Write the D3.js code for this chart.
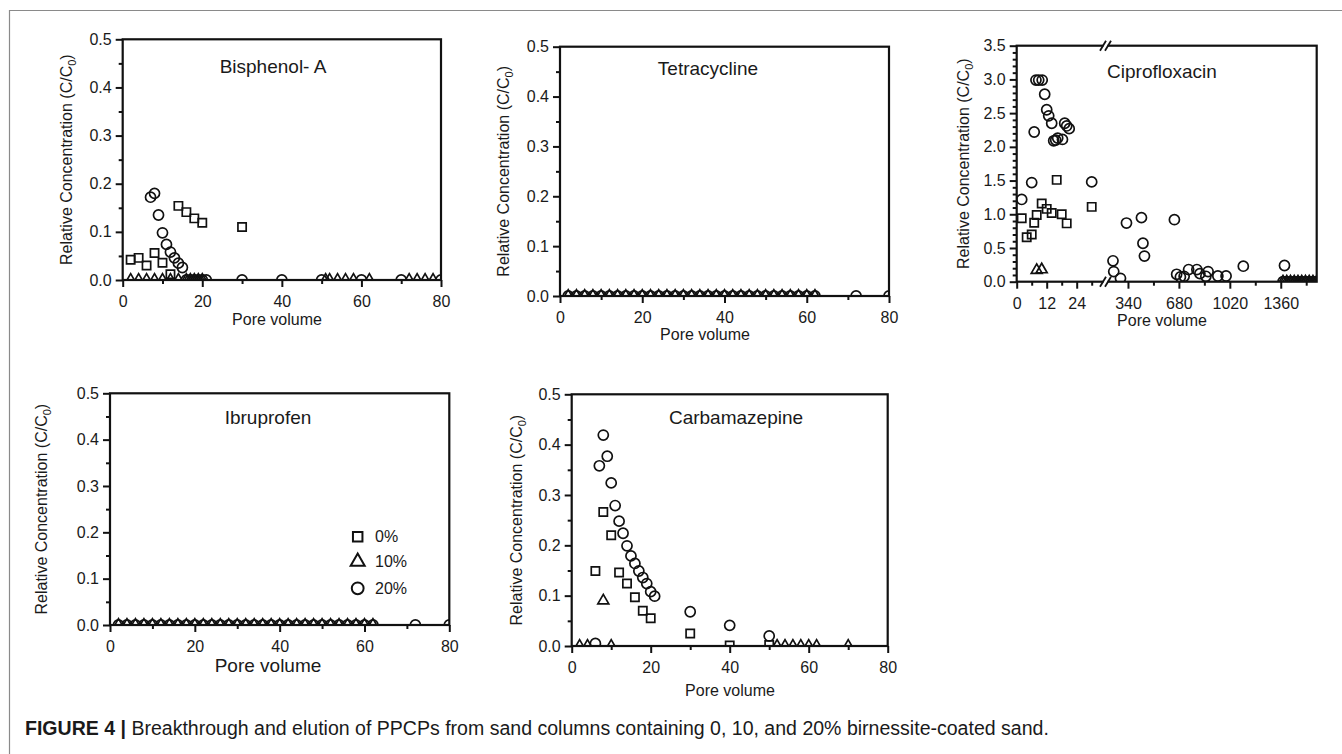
<!DOCTYPE html>
<html><head><meta charset="utf-8">
<script src="https://cdn.jsdelivr.net/npm/d3@7"></script>
<style>
body{margin:0;background:#fff}
svg{display:block}
text{font-family:"Liberation Sans",Arial,Helvetica,sans-serif;fill:#1a1a1a}
</style>
</head><body>
<svg id="chart" width="1342" height="754"></svg>
<script>
// ---------------- DATA ----------------
const seriesNames = ["0%", "10%", "20%"];
const poreTicks = [0, 20, 40, 60, 80];
const poreMinorTicks = [10, 30, 50, 70];
const concTicks = [0, 0.1, 0.2, 0.3, 0.4, 0.5];
const concMinorTicks = [0.05, 0.15, 0.25, 0.35, 0.45];

// Bisphenol-A
const bpaX0 = [2, 4, 6, 8, 10, 12, 14, 16, 18, 20, 30];
const bpaY0 = [0.042, 0.046, 0.030, 0.056, 0.036, 0.012, 0.154, 0.141, 0.128, 0.119, 0.110];
const bpaX10 = [2, 4, 6, 8, 10, 12, 14, 16, 17, 18, 19, 20, 51, 52, 54, 56, 58, 62, 72, 74, 76, 78];
const bpaY10 = [0, 0, 0, 0, 0, 0, 0, 0, 0, 0, 0, 0, 0, 0, 0, 0, 0, 0, 0, 0, 0, 0];
const bpaX20 = [7, 8, 9, 10, 11, 12, 13, 14, 15, 16, 17, 18, 19, 20, 21, 30, 40, 50, 60, 70, 80];
const bpaY20 = [0.172, 0.180, 0.135, 0.098, 0.074, 0.058, 0.046, 0.035, 0.026, 0, 0, 0, 0, 0, 0, 0, 0, 0, 0, 0, 0];

// Tetracycline
const tetX10 = [2, 4, 6, 8, 10, 12, 14, 16, 18, 20, 22, 24, 26, 28, 30, 32, 34, 36, 38, 40, 42, 44, 46, 48, 50, 52, 54, 56, 58, 60, 62];
const tetY10 = [0, 0, 0, 0, 0, 0, 0, 0, 0, 0, 0, 0, 0, 0, 0, 0, 0, 0, 0, 0, 0, 0, 0, 0, 0, 0, 0, 0, 0, 0, 0];
const tetX20 = [2, 4, 6, 8, 10, 12, 14, 16, 18, 20, 22, 24, 26, 28, 30, 32, 34, 36, 38, 40, 42, 44, 46, 48, 50, 52, 54, 56, 58, 60, 62, 72, 80];
const tetY20 = [0, 0, 0, 0, 0, 0, 0, 0, 0, 0, 0, 0, 0, 0, 0, 0, 0, 0, 0, 0, 0, 0, 0, 0, 0, 0, 0, 0, 0, 0, 0, 0, 0];

// Ciprofloxacin (broken x axis: early segment and late segment)
const ciproTicksA = [0, 12, 24];
const ciproMinorA = [6, 18, 30];
const ciproTicksB = [340, 680, 1020, 1360];
const ciproMinorB = [510, 850, 1190, 1530];
const ciproYTicks = [0, 0.5, 1.0, 1.5, 2.0, 2.5, 3.0, 3.5];
const ciproYMinor = [0.1, 0.2, 0.3, 0.4, 0.6, 0.7, 0.8, 0.9, 1.1, 1.2, 1.3, 1.4, 1.6, 1.7, 1.8, 1.9, 2.1, 2.2, 2.3, 2.4, 2.6, 2.7, 2.8, 2.9, 3.1, 3.2, 3.3, 3.4];
const cipX0 = [2, 4, 6, 7, 8, 10, 12, 14, 16, 18, 20, 30];
const cipY0 = [0.94, 0.66, 0.70, 0.875, 0.99, 1.16, 1.08, 1.02, 1.51, 1.00, 0.865, 1.11];
const cipX10 = [8, 10];
const cipY10 = [0.17, 0.18];
const cipX20 = [2, 6, 7, 7.7, 8.8, 10.2, 11.2, 12, 12.8, 14, 14.8, 15.6, 16.4, 18.3, 19.2, 20, 21, 30];
const cipY20 = [1.22, 1.47, 2.22, 2.99, 2.99, 2.99, 2.78, 2.55, 2.46, 2.35, 2.09, 2.10, 2.13, 2.11, 2.35, 2.31, 2.27, 1.48];
const cipLateX20 = [240, 245, 290, 330, 430, 440, 450, 650, 665, 690, 715, 745, 800, 820, 860, 875, 940, 995, 1110, 1385];
const cipLateY20 = [0.31, 0.15, 0.05, 0.87, 0.95, 0.57, 0.38, 0.92, 0.11, 0.07, 0.08, 0.18, 0.18, 0.12, 0.08, 0.15, 0.085, 0.085, 0.23, 0.24];
const cipLateX10 = [1375, 1400, 1425, 1450, 1475, 1500, 1525, 1550, 1575, 1600];
const cipLateY10 = [0, 0, 0, 0, 0, 0, 0, 0, 0, 0];

// Ibruprofen
const ibuX10 = [2, 4, 6, 8, 10, 12, 14, 16, 18, 20, 22, 24, 26, 28, 30, 32, 34, 36, 38, 40, 42, 44, 46, 48, 50, 52, 54, 56, 58, 60, 62];
const ibuY10 = [0, 0, 0, 0, 0, 0, 0, 0, 0, 0, 0, 0, 0, 0, 0, 0, 0, 0, 0, 0, 0, 0, 0, 0, 0, 0, 0, 0, 0, 0, 0];
const ibuX20 = [2, 4, 6, 8, 10, 12, 14, 16, 18, 20, 22, 24, 26, 28, 30, 32, 34, 36, 38, 40, 42, 44, 46, 48, 50, 52, 54, 56, 58, 60, 62, 72, 80];
const ibuY20 = [0, 0, 0, 0, 0, 0, 0, 0, 0, 0, 0, 0, 0, 0, 0, 0, 0, 0, 0, 0, 0, 0, 0, 0, 0, 0, 0, 0, 0, 0, 0, 0, 0];

// Carbamazepine
const cbzX0 = [6, 8, 10, 12, 14, 16, 18, 20, 30, 40, 50];
const cbzY0 = [0.149, 0.266, 0.220, 0.146, 0.124, 0.097, 0.070, 0.055, 0.025, 0.001, 0.002];
const cbzX10 = [2, 4, 8, 10, 52, 54, 56, 58, 60, 62, 70];
const cbzY10 = [0, 0, 0.09, 0, 0, 0, 0, 0, 0, 0, 0];
const cbzX20 = [6, 7, 8, 9, 10, 11, 12, 13, 14, 15, 16, 17, 18, 19, 20, 21, 30, 40, 50];
const cbzY20 = [0.005, 0.358, 0.419, 0.377, 0.324, 0.279, 0.248, 0.224, 0.199, 0.179, 0.164, 0.149, 0.136, 0.124, 0.108, 0.099, 0.068, 0.041, 0.020];

const captionBold = "FIGURE 4";
const captionText = "Breakthrough and elution of PPCPs from sand columns containing 0, 10, and 20% birnessite-coated sand.";

// ---------------- DRAWING ----------------
const svg = d3.select("#chart");
const INK = "#111";
const zip = (xs, ys) => xs.map((v, i) => [v, ys[i]]);

// figure border
svg.append("path").attr("d", "M9.5,754 V10.5 H1342").attr("fill", "none").attr("stroke", "#8a8a8a").attr("stroke-width", 1.2);

const symbols = {
  sq: d3.symbol().type(d3.symbolSquare).size(68),
  tri: d3.symbol().type(d3.symbolTriangle).size(52),
  cir: d3.symbol().type(d3.symbolCircle).size(80)
};

let clipId = 0;
function drawPoints(g, pts, x, y, sym, clip) {
  g.append("g").attr("clip-path", `url(#${clip})`)
    .selectAll("path").data(pts).join("path")
    .attr("d", symbols[sym]())
    .attr("transform", d => `translate(${x(d[0])},${y(d[1])})`)
    .attr("fill", "none").attr("stroke", INK).attr("stroke-width", 1.7);
}

function styleAxis(a) {
  a.select(".domain").remove();
  a.selectAll("line").attr("stroke", INK).attr("stroke-width", 2);
  a.selectAll("text").style("font-size", "16px").attr("fill", "#1a1a1a");
}

function yAxisAndFrame(g, c, y, major, minor, fmt) {
  const ay = g.append("g").attr("transform", `translate(${c.L},0)`)
    .call(d3.axisLeft(y).tickValues(major).tickSize(7).tickPadding(4).tickFormat(fmt));
  styleAxis(ay);
  const am = g.append("g").attr("transform", `translate(${c.L},0)`)
    .call(d3.axisLeft(y).tickValues(minor).tickSize(4).tickFormat(""));
  styleAxis(am);
}

function labels(g, c) {
  g.append("text").attr("x", c.titleX).attr("y", c.titleY).attr("text-anchor", "middle")
    .style("font-size", "19px").text(c.title);
  g.append("text").attr("x", c.pvX).attr("y", c.pvY).attr("text-anchor", "middle")
    .style("font-size", (c.pvSize || 16) + "px").text("Pore volume");
  const cy = (c.T + c.B) / 2;
  const t = g.append("text").attr("transform", `translate(${c.ylX},${cy}) rotate(-90)`)
    .attr("text-anchor", "middle").style("font-size", "16px");
  t.append("tspan").text("Relative Concentration (C/C");
  t.append("tspan").attr("dy", 4).style("font-size", "11px").text("0");
  t.append("tspan").attr("dy", -4).text(")");
}

function standardPanel(c, s0, s10, s20) {
  const g = svg.append("g");
  const x = d3.scaleLinear().domain([0, 80]).range([c.L, c.R]);
  const y = d3.scaleLinear().domain([0, 0.5]).range([c.B, c.T]);
  const id = "clip" + (clipId++);
  svg.append("clipPath").attr("id", id).append("rect")
    .attr("x", c.L).attr("y", c.T).attr("width", c.R - c.L).attr("height", c.B - c.T);
  if (s10) drawPoints(g, s10, x, y, "tri", id);
  if (s20) drawPoints(g, s20, x, y, "cir", id);
  if (s0) drawPoints(g, s0, x, y, "sq", id);
  const ax = g.append("g").attr("transform", `translate(0,${c.B})`)
    .call(d3.axisBottom(x).tickValues(poreTicks).tickSize(7).tickPadding(9).tickFormat(d3.format("d")));
  styleAxis(ax);
  const axm = g.append("g").attr("transform", `translate(0,${c.B})`)
    .call(d3.axisBottom(x).tickValues(poreMinorTicks).tickSize(4).tickFormat(""));
  styleAxis(axm);
  yAxisAndFrame(g, c, y, concTicks, concMinorTicks, d3.format(".1f"));
  g.append("rect").attr("x", c.L).attr("y", c.T).attr("width", c.R - c.L).attr("height", c.B - c.T)
    .attr("fill", "none").attr("stroke", INK).attr("stroke-width", 2.2);
  labels(g, c);
  return {g, x, y};
}

// Panel 1: Bisphenol-A
standardPanel({L: 122.7, R: 441, T: 39.3, B: 280, title: "Bisphenol- A", titleX: 273, titleY: 73,
  pvX: 277, pvY: 325, ylX: 72},
  zip(bpaX0, bpaY0), zip(bpaX10, bpaY10), zip(bpaX20, bpaY20));

// Panel 2: Tetracycline
standardPanel({L: 560, R: 889, T: 46.7, B: 296, title: "Tetracycline", titleX: 708, titleY: 75,
  pvX: 705, pvY: 340, ylX: 509},
  null, zip(tetX10, tetY10), zip(tetX20, tetY20));

// Panel 4: Ibruprofen
const ibu = standardPanel({L: 110, R: 449.3, T: 393.3, B: 625, title: "Ibruprofen", titleX: 268, titleY: 424,
  pvX: 268, pvY: 672, pvSize: 19, ylX: 47},
  null, zip(ibuX10, ibuY10), zip(ibuX20, ibuY20));
// legend
const legendY = [536.7, 561.7, 588.3];
const legendTypes = [d3.symbolSquare, d3.symbolTriangle, d3.symbolCircle];
const legendSizes = [90, 85, 110];
const leg = ibu.g.append("g");
seriesNames.forEach((name, i) => {
  leg.append("path").attr("d", d3.symbol().type(legendTypes[i]).size(legendSizes[i])())
    .attr("transform", `translate(357.7,${legendY[i]})`)
    .attr("fill", "none").attr("stroke", INK).attr("stroke-width", 2);
  leg.append("text").attr("x", 375).attr("y", legendY[i]).attr("dy", "0.36em")
    .style("font-size", "16px").text(name);
});

// Panel 5: Carbamazepine
standardPanel({L: 571.7, R: 887.7, T: 394.3, B: 646, title: "Carbamazepine", titleX: 736, titleY: 424,
  pvX: 730, pvY: 696, ylX: 522},
  zip(cbzX0, cbzY0), zip(cbzX10, cbzY10), zip(cbzX20, cbzY20));

// Panel 3: Ciprofloxacin with broken x-axis
(function () {
  const c = {L: 1016.7, R: 1316.7, T: 45.7, B: 281.7, title: "Ciprofloxacin", titleX: 1162, titleY: 78,
    pvX: 1162, pvY: 326, ylX: 969};
  const brk = 1105.5;
  const g = svg.append("g");
  const xa = d3.scaleLinear().domain([0, 35]).range([c.L, brk - 1.3]);
  const xb = d3.scaleLinear().domain([200, 1600]).range([brk + 1.5, c.R]);
  const y = d3.scaleLinear().domain([0, 3.5]).range([c.B, c.T]);
  const idA = "clip" + (clipId++), idB = "clip" + (clipId++);
  svg.append("clipPath").attr("id", idA).append("rect")
    .attr("x", c.L).attr("y", c.T).attr("width", brk - c.L).attr("height", c.B - c.T);
  svg.append("clipPath").attr("id", idB).append("rect")
    .attr("x", brk).attr("y", c.T).attr("width", c.R - brk).attr("height", c.B - c.T);
  drawPoints(g, zip(cipX10, cipY10), xa, y, "tri", idA);
  drawPoints(g, zip(cipX20, cipY20), xa, y, "cir", idA);
  drawPoints(g, zip(cipX0, cipY0), xa, y, "sq", idA);
  drawPoints(g, zip(cipLateX10, cipLateY10), xb, y, "tri", idB);
  drawPoints(g, zip(cipLateX10, cipLateY10), xb, y, "cir", idB);
  drawPoints(g, zip(cipLateX20, cipLateY20), xb, y, "cir", idB);

  const axA = g.append("g").attr("transform", `translate(0,${c.B})`)
    .call(d3.axisBottom(xa).tickValues(ciproTicksA).tickSize(7).tickPadding(9).tickFormat(d3.format("d")));
  styleAxis(axA);
  const axAm = g.append("g").attr("transform", `translate(0,${c.B})`)
    .call(d3.axisBottom(xa).tickValues(ciproMinorA).tickSize(4).tickFormat(""));
  styleAxis(axAm);
  const axB = g.append("g").attr("transform", `translate(0,${c.B})`)
    .call(d3.axisBottom(xb).tickValues(ciproTicksB).tickSize(7).tickPadding(9).tickFormat(d3.format("d")));
  styleAxis(axB);
  const axBm = g.append("g").attr("transform", `translate(0,${c.B})`)
    .call(d3.axisBottom(xb).tickValues(ciproMinorB).tickSize(4).tickFormat(""));
  styleAxis(axBm);
  yAxisAndFrame(g, c, y, ciproYTicks, ciproYMinor, d3.format(".1f"));
  g.append("rect").attr("x", c.L).attr("y", c.T).attr("width", c.R - c.L).attr("height", c.B - c.T)
    .attr("fill", "none").attr("stroke", INK).attr("stroke-width", 2.2);
  // break marks
  [c.T, c.B].forEach(yy => {
    g.append("rect").attr("x", brk - 2).attr("y", yy - 3).attr("width", 4).attr("height", 6).attr("fill", "#fff");
    [-2.5, 2.5].forEach(dx => {
      g.append("line").attr("x1", brk + dx - 3).attr("y1", yy + 5).attr("x2", brk + dx + 3).attr("y2", yy - 5)
        .attr("stroke", INK).attr("stroke-width", 1.8);
    });
  });
  labels(g, c);
})();

// caption: size fitted so the line spans the same width as in the figure
const cap = svg.append("text").attr("x", 25).attr("y", 735).style("font-size", "17px");
cap.append("tspan").style("font-weight", "bold").text(captionBold);
cap.append("tspan").style("font-weight", "bold").text(" | ");
cap.append("tspan").text(captionText);
const w17 = cap.node().getComputedTextLength();
cap.style("font-size", (17 * 1025 / w17).toFixed(2) + "px");
</script>
</body></html>
